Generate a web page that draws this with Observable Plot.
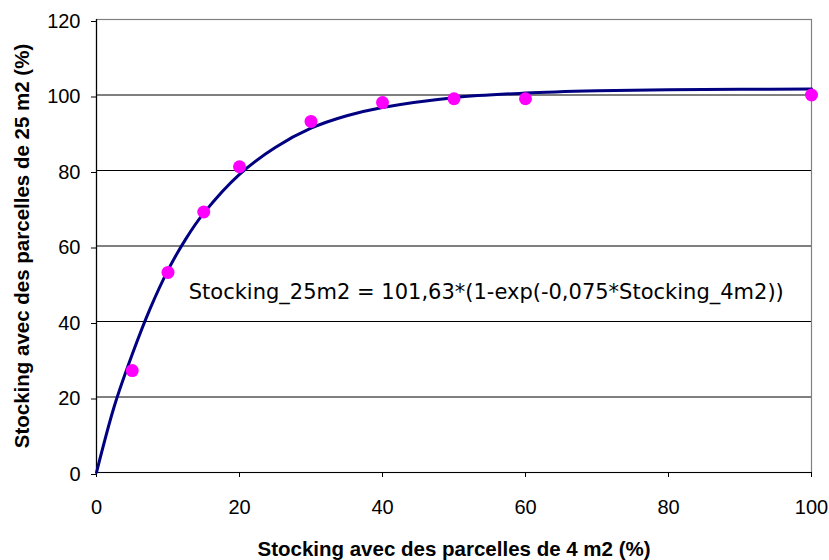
<!DOCTYPE html>
<html><head><meta charset="utf-8">
<script src="https://cdn.jsdelivr.net/npm/d3@7"></script>
<script src="https://cdn.jsdelivr.net/npm/@observablehq/plot@0.6"></script>
<style>
body{margin:0;background:#fff;}
#chart{width:829px;height:560px;}
</style></head>
<body><div id="chart"></div>
<script>
// Observed points
const obsX = [5, 10, 15, 20, 30, 40, 50, 60, 100];
const obsY = [27, 53, 69, 81, 93, 98, 99, 99, 100];
// Fitted curve
const fitX = [0, 2.5, 5, 7.5, 10, 12.5, 15, 20, 25, 30, 35, 40, 50, 60, 70, 80, 90, 100];
const fitY = [0, 17.6, 31.3, 43.4, 53.6, 61.9, 68.7, 79.0, 86.1, 91.2, 94.5, 96.7, 99.3, 100.5, 101.1, 101.4, 101.5, 101.6];
const xTicks = [0, 20, 40, 60, 80, 100];
const yTicks = [0, 20, 40, 60, 80, 100, 120];
const equation = "Stocking_25m2 = 101,63*(1-exp(-0,075*Stocking_4m2))";
const xTitle = "Stocking avec des parcelles de 4 m2 (%)";
const yTitle = "Stocking avec des parcelles de 25 m2 (%)";

const obs = obsX.map((x, i) => ({x, y: obsY[i]}));
const fit = fitX.map((x, i) => ({x, y: fitY[i]}));

const chart = Plot.plot({
  width: 829, height: 560,
  marginLeft: 96, marginRight: 18, marginTop: 19, marginBottom: 88,
  style: {fontFamily: "'Liberation Sans', Arial, sans-serif", fontSize: "20px", color: "#000", background: "#fff", overflow: "visible"},
  x: {domain: [0, 100], ticks: xTicks, label: null},
  y: {domain: [0, 120], ticks: yTicks, label: null},
  marks: [
    Plot.ruleY(yTicks.filter(d => d > 0 && d < 120), {stroke: "#000", strokeWidth: 1}),
    Plot.frame({stroke: "#808080", strokeWidth: 1.2}),
    Plot.ruleY([0], {stroke: "#000", strokeWidth: 1.2}),
    Plot.ruleX([0], {stroke: "#000", strokeWidth: 1.2}),
    Plot.axisX({ticks: xTicks, tickSize: 5, tickPadding: 22, fontSize: 20, label: null, stroke: "#000"}),
    Plot.axisY({ticks: yTicks, tickSize: 5, tickPadding: 11, fontSize: 20, dy: 2, label: null, stroke: "#000"}),
    Plot.line(fit, {x: "x", y: "y", stroke: "#000080", strokeWidth: 3, curve: "catmull-rom"}),
    Plot.dot(obs, {x: "x", y: "y", r: 6.5, fill: "#ff00ff", stroke: "none"}),
    Plot.text([equation], {x: 12.9, y: 47.8, text: d => d, textAnchor: "start", lineAnchor: "middle",
      fontFamily: "'DejaVu Sans', Verdana, sans-serif", fontSize: 21, fill: "#000"}),
    Plot.text([xTitle], {frameAnchor: "bottom", dy: 77.4, lineAnchor: "middle", text: d => d, fontWeight: "bold", fontSize: 20.5, fill: "#000"}),
    Plot.text([yTitle], {frameAnchor: "left", dx: -74, rotate: -90, textAnchor: "middle", lineAnchor: "middle", text: d => d, fontWeight: "bold", fontSize: 20.5, fill: "#000"})
  ]
});
document.getElementById("chart").append(chart);
</script>
</body></html>
